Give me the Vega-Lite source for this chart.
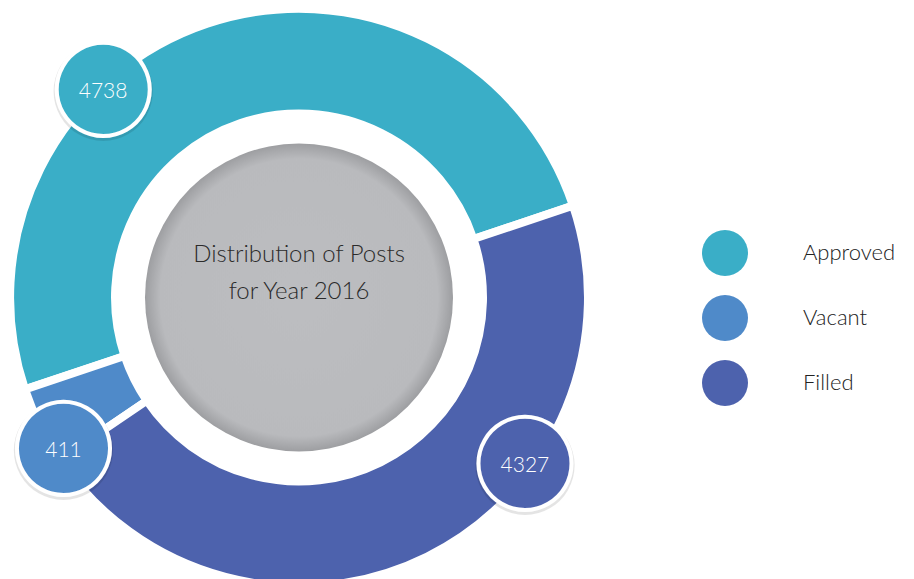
{
  "$schema": "https://vega.github.io/schema/vega-lite/v6.json",
  "width": 598,
  "height": 563,
  "autosize": {"type": "none"},
  "padding": {"left": 0, "top": 16, "right": 316, "bottom": 0},
  "background": "white",
  "config": {"view": {"stroke": null}},
  "data": {
    "values": [
      {"status": "Approved", "value": 4738},
      {"status": "Vacant", "value": 411},
      {"status": "Filled", "value": 4327}
    ]
  },
  "transform": [
    {"stack": "value", "groupby": [], "sort": [{"field": "status", "order": "ascending"}], "as": ["t0", "t1"]}
  ],
  "layer": [
    {
      "mark": {"type": "arc", "innerRadius": 184, "outerRadius": 289, "stroke": "white", "strokeWidth": 8},
      "encoding": {
        "theta": {"field": "t0", "type": "quantitative", "stack": null, "scale": {"domain": [0, 9476], "range": [4.389, 10.672], "zero": true, "nice": false}},
        "theta2": {"field": "t1"},
        "color": {
          "field": "status",
          "type": "nominal",
          "scale": {"domain": ["Approved", "Vacant", "Filled"], "range": ["#3aaec7", "#4f8ac9", "#4d62ad"]},
          "legend": {
            "orient": "none", "legendX": 702, "legendY": 214, "title": null,
            "symbolType": "circle", "symbolSize": 2116, "symbolStrokeWidth": 0, "symbolOpacity": 1,
            "labelFontSize": 22, "labelFont": "Lato", "labelFontWeight": 300, "labelColor": "#222222", "labelOffset": 55,
            "rowPadding": 19, "padding": 0
          }
        }
      }
    },
    {
      "data": {"values": [{}]},
      "mark": {
        "type": "arc", "theta": 0, "theta2": 6.2832, "outerRadius": 154, "innerRadius": 0,
        "color": {"gradient": "radial", "x1": 0.5, "y1": 0.5, "x2": 0.5, "y2": 0.5, "r1": 0, "r2": 0.5,
          "stops": [{"offset": 0, "color": "#bcbdc0"}, {"offset": 0.9, "color": "#b9babd"}, {"offset": 1, "color": "#9d9ea1"}]}
      },
      "encoding": {}
    },
    {
      "data": {"values": [{}]},
      "mark": {
        "type": "text", "text": ["Distribution of Posts", "for Year 2016"], "font": "Lato", "fontSize": 24, "fontWeight": 300,
        "color": "#2b2b2b", "align": "center", "baseline": "middle", "lineHeight": 37, "dy": -43
      },
      "encoding": {}
    },
    {
      "transform": [{"filter": "datum.status == 'Approved'"}],
      "layer": [
        {"mark": {"type": "text", "text": "●", "font": "DejaVu Sans", "fontSize": 130, "radius": 284, "thetaOffset": 1.133, "baseline": "middle", "align": "center", "color": "#000000", "opacity": 0.1, "dy": -6},
         "encoding": {"theta": {"field": "t0", "type": "quantitative", "stack": null}}},
        {"mark": {"type": "text", "text": "●", "font": "DejaVu Sans", "fontSize": 122, "radius": 284, "thetaOffset": 1.133, "baseline": "middle", "align": "center", "stroke": "white", "strokeWidth": 4, "dy": -8},
         "encoding": {"theta": {"field": "t0", "type": "quantitative", "stack": null}, "color": {"field": "status", "type": "nominal", "legend": null}}},
        {"mark": {"type": "text", "radius": 284, "thetaOffset": 1.133, "font": "Lato", "fontSize": 21, "fontWeight": 300, "color": "white", "baseline": "middle", "align": "center"},
         "encoding": {"theta": {"field": "t0", "type": "quantitative", "stack": null}, "text": {"field": "value", "type": "quantitative", "format": "d"}}}
      ]
    },
    {
      "transform": [{"filter": "datum.status == 'Filled'"}],
      "layer": [
        {"mark": {"type": "text", "text": "●", "font": "DejaVu Sans", "fontSize": 130, "radius": 282, "thetaOffset": 0.965, "baseline": "middle", "align": "center", "color": "#000000", "opacity": 0.1, "dy": -6},
         "encoding": {"theta": {"field": "t0", "type": "quantitative", "stack": null}}},
        {"mark": {"type": "text", "text": "●", "font": "DejaVu Sans", "fontSize": 122, "radius": 282, "thetaOffset": 0.965, "baseline": "middle", "align": "center", "stroke": "white", "strokeWidth": 4, "dy": -8},
         "encoding": {"theta": {"field": "t0", "type": "quantitative", "stack": null}, "color": {"field": "status", "type": "nominal", "legend": null}}},
        {"mark": {"type": "text", "radius": 282, "thetaOffset": 0.965, "font": "Lato", "fontSize": 21, "fontWeight": 300, "color": "white", "baseline": "middle", "align": "center"},
         "encoding": {"theta": {"field": "t0", "type": "quantitative", "stack": null}, "text": {"field": "value", "type": "quantitative", "format": "d"}}}
      ]
    },
    {
      "transform": [{"filter": "datum.status == 'Vacant'"}],
      "layer": [
        {"mark": {"type": "text", "text": "●", "font": "DejaVu Sans", "fontSize": 130, "radius": 281, "thetaOffset": 0.019, "baseline": "middle", "align": "center", "color": "#000000", "opacity": 0.1, "dy": -6},
         "encoding": {"theta": {"field": "t0", "type": "quantitative", "stack": null}}},
        {"mark": {"type": "text", "text": "●", "font": "DejaVu Sans", "fontSize": 122, "radius": 281, "thetaOffset": 0.019, "baseline": "middle", "align": "center", "stroke": "white", "strokeWidth": 4, "dy": -8},
         "encoding": {"theta": {"field": "t0", "type": "quantitative", "stack": null}, "color": {"field": "status", "type": "nominal", "legend": null}}},
        {"mark": {"type": "text", "radius": 281, "thetaOffset": 0.019, "font": "Lato", "fontSize": 21, "fontWeight": 300, "color": "white", "baseline": "middle", "align": "center"},
         "encoding": {"theta": {"field": "t0", "type": "quantitative", "stack": null}, "text": {"field": "value", "type": "quantitative", "format": "d"}}}
      ]
    }
  ]
}
